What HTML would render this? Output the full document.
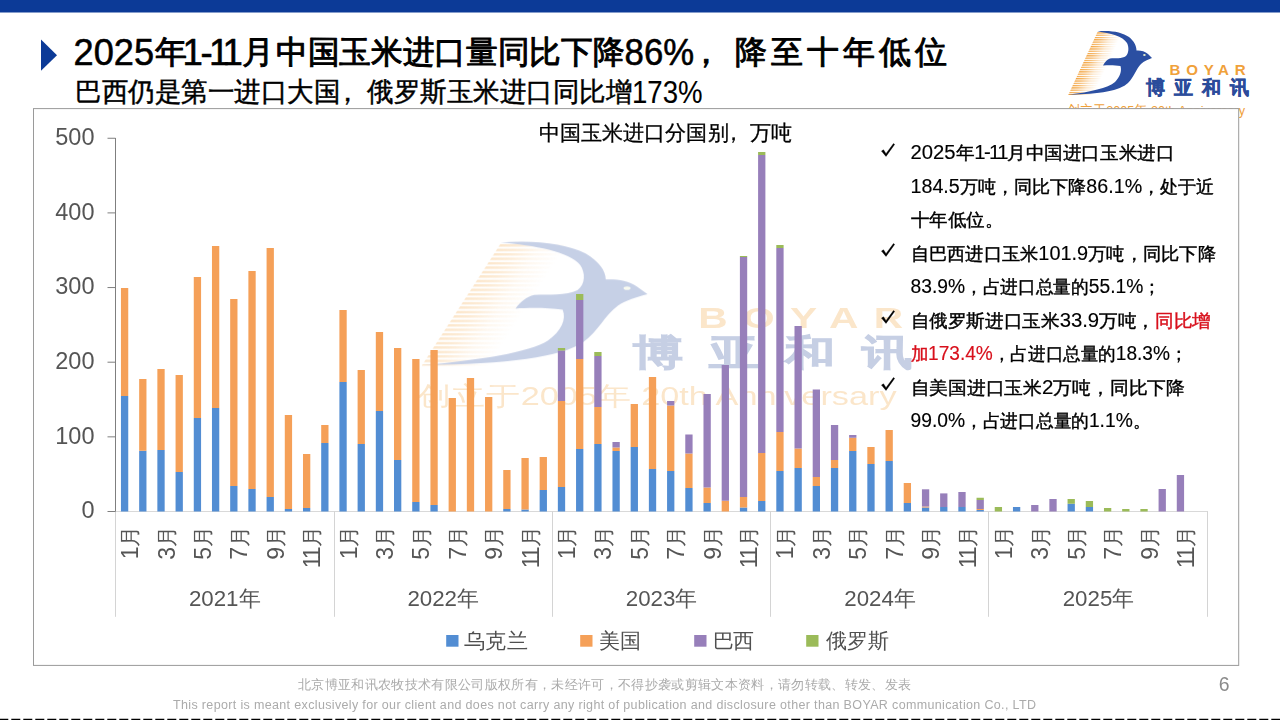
<!DOCTYPE html>
<html lang="zh">
<head>
<meta charset="utf-8">
<title>2025年1-11月中国玉米进口量同比下降86%</title>
<style>
html,body{margin:0;padding:0;background:#fff;}
body{width:1280px;height:720px;overflow:hidden;position:relative;font-family:"Liberation Sans",sans-serif;}
svg{position:absolute;left:0;top:0;display:block;}
text{font-family:"Liberation Sans",sans-serif;}
.ax{fill:#555;font-size:23px;}
.ax .cj{font-size:21px;}
.yv{font-size:23.5px;}
.yr{font-size:22.3px;}
.yr .cj{font-size:22px;}
.lg{fill:#505050;font-size:21px;}
.t1{font-size:31.7px;fill:#000;stroke:#000;stroke-width:1.0px;stroke-linejoin:round;}
.t1 .la{font-size:36.6px;stroke-width:0.55px;}
.t2{font-size:26.5px;fill:#000;stroke:#000;stroke-width:0.45px;}
.t2 .la{font-size:30.6px;stroke-width:0.1px;}
.pn{font-size:18.4px;fill:#000;stroke:#000;stroke-width:0.42px;}
.pn .la{font-size:19.6px;stroke-width:0.15px;}
.red{fill:#D8101C;stroke:#D8101C;}
.ft{font-size:12.5px;fill:#ABABAB;}
</style>
</head>
<body>
<svg width="1280" height="720" viewBox="0 0 1280 720">
<defs>
  <linearGradient id="fadeG" gradientUnits="userSpaceOnUse" x1="40.75" y1="0" x2="66" y2="0">
    <stop offset="0" stop-color="#fff" stop-opacity="1"/>
    <stop offset="0.25" stop-color="#fff" stop-opacity="0.8"/>
    <stop offset="0.6" stop-color="#fff" stop-opacity="0.3"/>
    <stop offset="1" stop-color="#fff" stop-opacity="0"/>
  </linearGradient>
  <mask id="fm" maskUnits="userSpaceOnUse" x="30" y="0" width="70" height="80"><rect x="30" y="0" width="70" height="80" fill="url(#fadeG)"/></mask>
  <pattern id="stripes" x="0" y="7.3" width="10" height="2.29" patternUnits="userSpaceOnUse">
    <rect x="0" y="0" width="10" height="1.3" fill="#F3A23B"/>
  </pattern>
  <g id="bird">
    <!-- striped wing -->
    <g transform="skewX(-24.9)"><rect x="40.75" y="7" width="38" height="63" fill="url(#stripes)" mask="url(#fm)"/></g>
    <!-- bird -->
    <path d="M37.5,6.4 C50,5 62,7 69,12 C74,16 76.5,21 76.5,25.5 C80,25.2 85,26 88,29 L92,33 C88,34.5 84,36 81,39 C76,44 74,52 68,58 C60,65.5 40,69.3 9,69.6 C30,67 48,63 55,57 C60,52 62,46 60.5,41 C55,40 48,40 43,40.5 C45,37 47,34.5 50,33.5 C55,33 62,34 66,31 C69,28 69,22 67,18 C63,11 50,8 37.5,6.4 Z" fill="#2B4FA2"/>
    <ellipse cx="84.4" cy="30" rx="1.3" ry="0.9" fill="#E8F0C8"/>
  </g>
  <g id="lann">
    <text x="7" y="90" font-size="13.5" fill="#F0A13A" textLength="178" lengthAdjust="spacingAndGlyphs">创立于2005年 20th Anniversary</text>
  </g>
  <g id="ltxt">
    <text x="109.6" y="50.4" font-size="15.1" font-weight="bold" fill="#F0A13A" textLength="76" lengthAdjust="spacing">BOYAR</text>
    <text x="85.5" y="69.3" font-size="18.5" font-weight="bold" fill="#2B4C9B" stroke="#2B4C9B" stroke-width="0.5" textLength="103" lengthAdjust="spacing">博亚和讯</text>
  </g>
</defs>

<!-- top bar -->
<rect x="0" y="0" width="1280" height="12.5" fill="#0C3A97"/>
<!-- bullet triangle -->
<polygon points="41,39.6 57,55.2 41,70.8" fill="#0C3A97"/>

<!-- titles -->
<text class="t1"><tspan x="73.6" y="64.8" class="la" textLength="80.5" lengthAdjust="spacingAndGlyphs">2025</tspan><tspan x="155.2" y="63">年</tspan><tspan x="182.6 200.4 208.9 222.4" y="64.8" class="la">1-11</tspan><tspan x="241.6" y="63">月</tspan><tspan x="276" y="63" textLength="348.5" lengthAdjust="spacingAndGlyphs">中国玉米进口量同比下降</tspan><tspan x="624.6" y="64.8" class="la" textLength="69.5" lengthAdjust="spacingAndGlyphs">86%</tspan><tspan x="689.5" y="63">，</tspan><tspan x="735" y="63" textLength="212" lengthAdjust="spacing">降至十年低位</tspan></text>
<text class="t2"><tspan x="75" y="101.2" textLength="265" lengthAdjust="spacingAndGlyphs">巴西仍是第一进口大国</tspan><tspan x="333.5" y="101.2">，</tspan><tspan x="367" y="101.2" textLength="265" lengthAdjust="spacingAndGlyphs">俄罗斯玉米进口同比增</tspan><tspan x="632" y="102.9" class="la" textLength="70.5" lengthAdjust="spacingAndGlyphs">173%</tspan></text>

<!-- top-right logo -->
<g transform="translate(1060,25)"><use href="#bird"/><use href="#ltxt"/><use href="#lann"/></g>

<!-- chart frame -->
<rect x="33.5" y="108.6" width="1205.2" height="556.8" fill="#fff" stroke="#9A9A9A" stroke-width="1"/>

<!-- watermark -->
<g opacity="0.27" transform="translate(399.5,230.1) scale(2.696,1.938)"><use href="#bird"/><use href="#ltxt" x="1.2" y="0.2"/><use href="#lann" x="-0.6"/></g>

<!-- chart title -->
<text y="140.3" font-size="21.2" fill="#000" stroke="#000" stroke-width="0.3"><tspan x="538.7" textLength="190" lengthAdjust="spacingAndGlyphs">中国玉米进口分国别</tspan><tspan x="723">，</tspan><tspan x="750.3" textLength="42.3" lengthAdjust="spacingAndGlyphs">万吨</tspan></text>

<!-- axes -->
<line x1="115.5" y1="511.5" x2="1208" y2="511.5" stroke="#D9D9D9" stroke-width="1"/>
<rect x="115" y="511.5" width="1" height="105.3" fill="#D4D4D4"/>
<rect x="334" y="511.5" width="1" height="105.3" fill="#D4D4D4"/>
<rect x="552" y="511.5" width="1" height="105.3" fill="#D4D4D4"/>
<rect x="770" y="511.5" width="1" height="105.3" fill="#D4D4D4"/>
<rect x="988" y="511.5" width="1" height="105.3" fill="#D4D4D4"/>
<rect x="1207" y="511.5" width="1" height="105.3" fill="#D4D4D4"/>
<line x1="115.5" y1="138" x2="115.5" y2="511.5" stroke="#7F7F7F" stroke-width="1"/>
<line x1="107.5" y1="511.50" x2="115.5" y2="511.50" stroke="#7F7F7F" stroke-width="1"/>
<text x="94.5" y="518.30" text-anchor="end" class="ax yv">0</text>
<line x1="107.5" y1="436.85" x2="115.5" y2="436.85" stroke="#7F7F7F" stroke-width="1"/>
<text x="94.5" y="443.65" text-anchor="end" class="ax yv">100</text>
<line x1="107.5" y1="362.20" x2="115.5" y2="362.20" stroke="#7F7F7F" stroke-width="1"/>
<text x="94.5" y="369.00" text-anchor="end" class="ax yv">200</text>
<line x1="107.5" y1="287.55" x2="115.5" y2="287.55" stroke="#7F7F7F" stroke-width="1"/>
<text x="94.5" y="294.35" text-anchor="end" class="ax yv">300</text>
<line x1="107.5" y1="212.90" x2="115.5" y2="212.90" stroke="#7F7F7F" stroke-width="1"/>
<text x="94.5" y="219.70" text-anchor="end" class="ax yv">400</text>
<line x1="107.5" y1="138.25" x2="115.5" y2="138.25" stroke="#7F7F7F" stroke-width="1"/>
<text x="94.5" y="145.05" text-anchor="end" class="ax yv">500</text>

<!-- bars -->
<g shape-rendering="auto">
<rect x="120.95" y="396.00" width="7.3" height="115.50" fill="#528DD3"/>
<rect x="120.95" y="288.00" width="7.3" height="108.00" fill="#F5A058"/>
<rect x="139.16" y="450.75" width="7.3" height="60.75" fill="#528DD3"/>
<rect x="139.16" y="379.00" width="7.3" height="71.75" fill="#F5A058"/>
<rect x="157.36" y="450.00" width="7.3" height="61.50" fill="#528DD3"/>
<rect x="157.36" y="369.00" width="7.3" height="81.00" fill="#F5A058"/>
<rect x="175.56" y="472.00" width="7.3" height="39.50" fill="#528DD3"/>
<rect x="175.56" y="375.00" width="7.3" height="97.00" fill="#F5A058"/>
<rect x="193.77" y="418.00" width="7.3" height="93.50" fill="#528DD3"/>
<rect x="193.77" y="277.00" width="7.3" height="141.00" fill="#F5A058"/>
<rect x="211.97" y="408.00" width="7.3" height="103.50" fill="#528DD3"/>
<rect x="211.97" y="246.00" width="7.3" height="162.00" fill="#F5A058"/>
<rect x="230.18" y="486.00" width="7.3" height="25.50" fill="#528DD3"/>
<rect x="230.18" y="299.00" width="7.3" height="187.00" fill="#F5A058"/>
<rect x="248.38" y="489.00" width="7.3" height="22.50" fill="#528DD3"/>
<rect x="248.38" y="271.00" width="7.3" height="218.00" fill="#F5A058"/>
<rect x="266.58" y="497.00" width="7.3" height="14.50" fill="#528DD3"/>
<rect x="266.58" y="248.00" width="7.3" height="249.00" fill="#F5A058"/>
<rect x="284.79" y="509.00" width="7.3" height="2.50" fill="#528DD3"/>
<rect x="284.79" y="415.00" width="7.3" height="94.00" fill="#F5A058"/>
<rect x="302.99" y="508.00" width="7.3" height="3.50" fill="#528DD3"/>
<rect x="302.99" y="454.00" width="7.3" height="54.00" fill="#F5A058"/>
<rect x="321.20" y="443.00" width="7.3" height="68.50" fill="#528DD3"/>
<rect x="321.20" y="425.00" width="7.3" height="18.00" fill="#F5A058"/>
<rect x="339.40" y="382.00" width="7.3" height="129.50" fill="#528DD3"/>
<rect x="339.40" y="310.00" width="7.3" height="72.00" fill="#F5A058"/>
<rect x="357.60" y="444.00" width="7.3" height="67.50" fill="#528DD3"/>
<rect x="357.60" y="370.00" width="7.3" height="74.00" fill="#F5A058"/>
<rect x="375.81" y="411.00" width="7.3" height="100.50" fill="#528DD3"/>
<rect x="375.81" y="332.00" width="7.3" height="79.00" fill="#F5A058"/>
<rect x="394.01" y="460.00" width="7.3" height="51.50" fill="#528DD3"/>
<rect x="394.01" y="348.00" width="7.3" height="112.00" fill="#F5A058"/>
<rect x="412.22" y="502.00" width="7.3" height="9.50" fill="#528DD3"/>
<rect x="412.22" y="359.00" width="7.3" height="143.00" fill="#F5A058"/>
<rect x="430.42" y="505.00" width="7.3" height="6.50" fill="#528DD3"/>
<rect x="430.42" y="350.00" width="7.3" height="155.00" fill="#F5A058"/>
<rect x="448.62" y="398.00" width="7.3" height="113.50" fill="#F5A058"/>
<rect x="466.83" y="378.00" width="7.3" height="133.50" fill="#F5A058"/>
<rect x="485.03" y="397.00" width="7.3" height="114.50" fill="#F5A058"/>
<rect x="503.24" y="509.00" width="7.3" height="2.50" fill="#528DD3"/>
<rect x="503.24" y="470.00" width="7.3" height="39.00" fill="#F5A058"/>
<rect x="521.44" y="509.50" width="7.3" height="2.00" fill="#528DD3"/>
<rect x="521.44" y="458.00" width="7.3" height="51.50" fill="#F5A058"/>
<rect x="539.64" y="490.00" width="7.3" height="21.50" fill="#528DD3"/>
<rect x="539.64" y="457.00" width="7.3" height="33.00" fill="#F5A058"/>
<rect x="557.85" y="487.00" width="7.3" height="24.50" fill="#528DD3"/>
<rect x="557.85" y="401.00" width="7.3" height="86.00" fill="#F5A058"/>
<rect x="557.85" y="350.50" width="7.3" height="50.50" fill="#977FBA"/>
<rect x="557.85" y="348.00" width="7.3" height="2.50" fill="#9BBB59"/>
<rect x="576.05" y="449.00" width="7.3" height="62.50" fill="#528DD3"/>
<rect x="576.05" y="359.00" width="7.3" height="90.00" fill="#F5A058"/>
<rect x="576.05" y="300.00" width="7.3" height="59.00" fill="#977FBA"/>
<rect x="576.05" y="294.00" width="7.3" height="6.00" fill="#9BBB59"/>
<rect x="594.26" y="444.00" width="7.3" height="67.50" fill="#528DD3"/>
<rect x="594.26" y="407.00" width="7.3" height="37.00" fill="#F5A058"/>
<rect x="594.26" y="356.00" width="7.3" height="51.00" fill="#977FBA"/>
<rect x="594.26" y="352.00" width="7.3" height="4.00" fill="#9BBB59"/>
<rect x="612.46" y="451.00" width="7.3" height="60.50" fill="#528DD3"/>
<rect x="612.46" y="447.50" width="7.3" height="3.50" fill="#F5A058"/>
<rect x="612.46" y="442.00" width="7.3" height="5.50" fill="#977FBA"/>
<rect x="630.66" y="447.00" width="7.3" height="64.50" fill="#528DD3"/>
<rect x="630.66" y="404.00" width="7.3" height="43.00" fill="#F5A058"/>
<rect x="648.87" y="469.00" width="7.3" height="42.50" fill="#528DD3"/>
<rect x="648.87" y="377.00" width="7.3" height="92.00" fill="#F5A058"/>
<rect x="667.07" y="471.00" width="7.3" height="40.50" fill="#528DD3"/>
<rect x="667.07" y="405.50" width="7.3" height="65.50" fill="#F5A058"/>
<rect x="667.07" y="401.00" width="7.3" height="4.50" fill="#977FBA"/>
<rect x="685.28" y="488.00" width="7.3" height="23.50" fill="#528DD3"/>
<rect x="685.28" y="453.50" width="7.3" height="34.50" fill="#F5A058"/>
<rect x="685.28" y="434.50" width="7.3" height="19.00" fill="#977FBA"/>
<rect x="703.48" y="503.00" width="7.3" height="8.50" fill="#528DD3"/>
<rect x="703.48" y="487.50" width="7.3" height="15.50" fill="#F5A058"/>
<rect x="703.48" y="394.00" width="7.3" height="93.50" fill="#977FBA"/>
<rect x="721.68" y="500.75" width="7.3" height="10.75" fill="#F5A058"/>
<rect x="721.68" y="365.00" width="7.3" height="135.75" fill="#977FBA"/>
<rect x="739.89" y="507.50" width="7.3" height="4.00" fill="#528DD3"/>
<rect x="739.89" y="497.00" width="7.3" height="10.50" fill="#F5A058"/>
<rect x="739.89" y="257.00" width="7.3" height="240.00" fill="#977FBA"/>
<rect x="739.89" y="256.00" width="7.3" height="1.00" fill="#9BBB59"/>
<rect x="758.09" y="501.00" width="7.3" height="10.50" fill="#528DD3"/>
<rect x="758.09" y="453.00" width="7.3" height="48.00" fill="#F5A058"/>
<rect x="758.09" y="155.00" width="7.3" height="298.00" fill="#977FBA"/>
<rect x="758.09" y="152.00" width="7.3" height="3.00" fill="#9BBB59"/>
<rect x="776.30" y="471.00" width="7.3" height="40.50" fill="#528DD3"/>
<rect x="776.30" y="432.00" width="7.3" height="39.00" fill="#F5A058"/>
<rect x="776.30" y="248.00" width="7.3" height="184.00" fill="#977FBA"/>
<rect x="776.30" y="245.00" width="7.3" height="3.00" fill="#9BBB59"/>
<rect x="794.50" y="468.00" width="7.3" height="43.50" fill="#528DD3"/>
<rect x="794.50" y="448.50" width="7.3" height="19.50" fill="#F5A058"/>
<rect x="794.50" y="326.00" width="7.3" height="122.50" fill="#977FBA"/>
<rect x="812.70" y="486.00" width="7.3" height="25.50" fill="#528DD3"/>
<rect x="812.70" y="477.00" width="7.3" height="9.00" fill="#F5A058"/>
<rect x="812.70" y="389.50" width="7.3" height="87.50" fill="#977FBA"/>
<rect x="830.91" y="468.00" width="7.3" height="43.50" fill="#528DD3"/>
<rect x="830.91" y="460.00" width="7.3" height="8.00" fill="#F5A058"/>
<rect x="830.91" y="425.00" width="7.3" height="35.00" fill="#977FBA"/>
<rect x="849.11" y="451.00" width="7.3" height="60.50" fill="#528DD3"/>
<rect x="849.11" y="437.75" width="7.3" height="13.25" fill="#F5A058"/>
<rect x="849.11" y="435.00" width="7.3" height="2.75" fill="#977FBA"/>
<rect x="867.32" y="464.00" width="7.3" height="47.50" fill="#528DD3"/>
<rect x="867.32" y="447.00" width="7.3" height="17.00" fill="#F5A058"/>
<rect x="885.52" y="461.00" width="7.3" height="50.50" fill="#528DD3"/>
<rect x="885.52" y="430.00" width="7.3" height="31.00" fill="#F5A058"/>
<rect x="903.72" y="503.00" width="7.3" height="8.50" fill="#528DD3"/>
<rect x="903.72" y="483.00" width="7.3" height="20.00" fill="#F5A058"/>
<rect x="921.93" y="507.50" width="7.3" height="4.00" fill="#528DD3"/>
<rect x="921.93" y="506.50" width="7.3" height="1.00" fill="#F5A058"/>
<rect x="921.93" y="489.30" width="7.3" height="17.20" fill="#977FBA"/>
<rect x="940.13" y="507.00" width="7.3" height="4.50" fill="#528DD3"/>
<rect x="940.13" y="493.40" width="7.3" height="13.60" fill="#977FBA"/>
<rect x="958.34" y="507.00" width="7.3" height="4.50" fill="#528DD3"/>
<rect x="958.34" y="492.00" width="7.3" height="15.00" fill="#977FBA"/>
<rect x="976.54" y="510.00" width="7.3" height="1.50" fill="#528DD3"/>
<rect x="976.54" y="509.00" width="7.3" height="1.00" fill="#F5A058"/>
<rect x="976.54" y="500.00" width="7.3" height="9.00" fill="#977FBA"/>
<rect x="976.54" y="497.75" width="7.3" height="2.25" fill="#9BBB59"/>
<rect x="994.74" y="507.00" width="7.3" height="4.50" fill="#9BBB59"/>
<rect x="1012.95" y="507.00" width="7.3" height="4.50" fill="#528DD3"/>
<rect x="1031.15" y="505.00" width="7.3" height="6.50" fill="#977FBA"/>
<rect x="1049.36" y="499.00" width="7.3" height="12.50" fill="#977FBA"/>
<rect x="1067.56" y="503.75" width="7.3" height="7.75" fill="#528DD3"/>
<rect x="1067.56" y="499.00" width="7.3" height="4.75" fill="#9BBB59"/>
<rect x="1085.76" y="507.00" width="7.3" height="4.50" fill="#528DD3"/>
<rect x="1085.76" y="501.00" width="7.3" height="6.00" fill="#9BBB59"/>
<rect x="1103.97" y="508.00" width="7.3" height="3.50" fill="#9BBB59"/>
<rect x="1122.17" y="509.00" width="7.3" height="2.50" fill="#9BBB59"/>
<rect x="1140.38" y="509.00" width="7.3" height="2.50" fill="#9BBB59"/>
<rect x="1158.58" y="489.00" width="7.3" height="22.50" fill="#977FBA"/>
<rect x="1176.78" y="475.00" width="7.3" height="36.50" fill="#977FBA"/>
</g>

<!-- category labels -->
<text transform="translate(137.30,0) rotate(-90)" class="ax"><tspan x="-559.2" y="0.8">1</tspan><tspan class="cj" x="-546.8" y="0">月</tspan></text>
<text transform="translate(173.71,0) rotate(-90)" class="ax"><tspan x="-559.8" y="0.8">3</tspan><tspan class="cj" x="-546.8" y="0">月</tspan></text>
<text transform="translate(210.12,0) rotate(-90)" class="ax"><tspan x="-559.8" y="0.8">5</tspan><tspan class="cj" x="-546.8" y="0">月</tspan></text>
<text transform="translate(246.53,0) rotate(-90)" class="ax"><tspan x="-559.8" y="0.8">7</tspan><tspan class="cj" x="-546.8" y="0">月</tspan></text>
<text transform="translate(282.93,0) rotate(-90)" class="ax"><tspan x="-559.8" y="0.8">9</tspan><tspan class="cj" x="-546.8" y="0">月</tspan></text>
<text transform="translate(319.34,0) rotate(-90)" class="ax"><tspan x="-568.2 -559.2" y="0.8">11</tspan><tspan class="cj" x="-546.8" y="0">月</tspan></text>
<text transform="translate(355.75,0) rotate(-90)" class="ax"><tspan x="-559.2" y="0.8">1</tspan><tspan class="cj" x="-546.8" y="0">月</tspan></text>
<text transform="translate(392.16,0) rotate(-90)" class="ax"><tspan x="-559.8" y="0.8">3</tspan><tspan class="cj" x="-546.8" y="0">月</tspan></text>
<text transform="translate(428.57,0) rotate(-90)" class="ax"><tspan x="-559.8" y="0.8">5</tspan><tspan class="cj" x="-546.8" y="0">月</tspan></text>
<text transform="translate(464.97,0) rotate(-90)" class="ax"><tspan x="-559.8" y="0.8">7</tspan><tspan class="cj" x="-546.8" y="0">月</tspan></text>
<text transform="translate(501.38,0) rotate(-90)" class="ax"><tspan x="-559.8" y="0.8">9</tspan><tspan class="cj" x="-546.8" y="0">月</tspan></text>
<text transform="translate(537.79,0) rotate(-90)" class="ax"><tspan x="-568.2 -559.2" y="0.8">11</tspan><tspan class="cj" x="-546.8" y="0">月</tspan></text>
<text transform="translate(574.20,0) rotate(-90)" class="ax"><tspan x="-559.2" y="0.8">1</tspan><tspan class="cj" x="-546.8" y="0">月</tspan></text>
<text transform="translate(610.61,0) rotate(-90)" class="ax"><tspan x="-559.8" y="0.8">3</tspan><tspan class="cj" x="-546.8" y="0">月</tspan></text>
<text transform="translate(647.01,0) rotate(-90)" class="ax"><tspan x="-559.8" y="0.8">5</tspan><tspan class="cj" x="-546.8" y="0">月</tspan></text>
<text transform="translate(683.42,0) rotate(-90)" class="ax"><tspan x="-559.8" y="0.8">7</tspan><tspan class="cj" x="-546.8" y="0">月</tspan></text>
<text transform="translate(719.83,0) rotate(-90)" class="ax"><tspan x="-559.8" y="0.8">9</tspan><tspan class="cj" x="-546.8" y="0">月</tspan></text>
<text transform="translate(756.24,0) rotate(-90)" class="ax"><tspan x="-568.2 -559.2" y="0.8">11</tspan><tspan class="cj" x="-546.8" y="0">月</tspan></text>
<text transform="translate(792.65,0) rotate(-90)" class="ax"><tspan x="-559.2" y="0.8">1</tspan><tspan class="cj" x="-546.8" y="0">月</tspan></text>
<text transform="translate(829.05,0) rotate(-90)" class="ax"><tspan x="-559.8" y="0.8">3</tspan><tspan class="cj" x="-546.8" y="0">月</tspan></text>
<text transform="translate(865.46,0) rotate(-90)" class="ax"><tspan x="-559.8" y="0.8">5</tspan><tspan class="cj" x="-546.8" y="0">月</tspan></text>
<text transform="translate(901.87,0) rotate(-90)" class="ax"><tspan x="-559.8" y="0.8">7</tspan><tspan class="cj" x="-546.8" y="0">月</tspan></text>
<text transform="translate(938.28,0) rotate(-90)" class="ax"><tspan x="-559.8" y="0.8">9</tspan><tspan class="cj" x="-546.8" y="0">月</tspan></text>
<text transform="translate(974.69,0) rotate(-90)" class="ax"><tspan x="-568.2 -559.2" y="0.8">11</tspan><tspan class="cj" x="-546.8" y="0">月</tspan></text>
<text transform="translate(1011.09,0) rotate(-90)" class="ax"><tspan x="-559.2" y="0.8">1</tspan><tspan class="cj" x="-546.8" y="0">月</tspan></text>
<text transform="translate(1047.50,0) rotate(-90)" class="ax"><tspan x="-559.8" y="0.8">3</tspan><tspan class="cj" x="-546.8" y="0">月</tspan></text>
<text transform="translate(1083.91,0) rotate(-90)" class="ax"><tspan x="-559.8" y="0.8">5</tspan><tspan class="cj" x="-546.8" y="0">月</tspan></text>
<text transform="translate(1120.32,0) rotate(-90)" class="ax"><tspan x="-559.8" y="0.8">7</tspan><tspan class="cj" x="-546.8" y="0">月</tspan></text>
<text transform="translate(1156.73,0) rotate(-90)" class="ax"><tspan x="-559.8" y="0.8">9</tspan><tspan class="cj" x="-546.8" y="0">月</tspan></text>
<text transform="translate(1193.13,0) rotate(-90)" class="ax"><tspan x="-568.2 -559.2" y="0.8">11</tspan><tspan class="cj" x="-546.8" y="0">月</tspan></text>
<text x="224.7" y="606.3" text-anchor="middle" class="ax yr">2021<tspan class="cj">年</tspan></text>
<text x="443.2" y="606.3" text-anchor="middle" class="ax yr">2022<tspan class="cj">年</tspan></text>
<text x="661.6" y="606.3" text-anchor="middle" class="ax yr">2023<tspan class="cj">年</tspan></text>
<text x="880.1" y="606.3" text-anchor="middle" class="ax yr">2024<tspan class="cj">年</tspan></text>
<text x="1098.5" y="606.3" text-anchor="middle" class="ax yr">2025<tspan class="cj">年</tspan></text>

<!-- legend -->
<rect x="446.2" y="635" width="12.3" height="11.7" fill="#528DD3"/>
<text x="464" y="648" class="lg" textLength="63.5" lengthAdjust="spacing">乌克兰</text>
<rect x="580.2" y="635" width="12.3" height="11.7" fill="#F5A058"/>
<text x="599" y="648" class="lg" textLength="41.5" lengthAdjust="spacing">美国</text>
<rect x="694.2" y="635" width="12.3" height="11.7" fill="#977FBA"/>
<text x="712.5" y="648" class="lg" textLength="41.5" lengthAdjust="spacing">巴西</text>
<rect x="806.2" y="635" width="12.3" height="11.7" fill="#9BBB59"/>
<text x="826" y="648" class="lg" textLength="63" lengthAdjust="spacing">俄罗斯</text>

<!-- text panel -->
<g class="pn">
<polygon points="881.5,151.1 883.5,149.8 886.0,153.7 893.5,143.6 894.6,144.4 886.0,156.4" fill="#000"/>
<text x="910.5" y="159" textLength="264" lengthAdjust="spacingAndGlyphs"><tspan class="la">2025</tspan>年<tspan class="la" letter-spacing="-1.5">1-11</tspan>月中国进口玉米进口</text>
<text x="910.5" y="192.5" textLength="304" lengthAdjust="spacingAndGlyphs"><tspan class="la">184.5</tspan>万吨，同比下降<tspan class="la">86.1%</tspan>，处于近</text>
<text x="910.5" y="226" textLength="92.5" lengthAdjust="spacingAndGlyphs">十年低位。</text>
<polygon points="881.5,251.1 883.5,249.8 886.0,253.7 893.5,243.6 894.6,244.4 886.0,256.4" fill="#000"/>
<text x="910.5" y="259.5" textLength="305.5" lengthAdjust="spacingAndGlyphs">自巴西进口玉米<tspan class="la">101.9</tspan>万吨，同比下降</text>
<text x="910.5" y="293" textLength="250.5" lengthAdjust="spacingAndGlyphs"><tspan class="la">83.9%</tspan>，占进口总量的<tspan class="la">55.1%</tspan>；</text>
<polygon points="881.5,318.1 883.5,316.8 886.0,320.7 893.5,310.6 894.6,311.4 886.0,323.4" fill="#000"/>
<text x="910.5" y="326.5" textLength="300.5" lengthAdjust="spacingAndGlyphs">自俄罗斯进口玉米<tspan class="la">33.9</tspan>万吨，<tspan class="red">同比增</tspan></text>
<text x="910.5" y="360" textLength="277" lengthAdjust="spacingAndGlyphs"><tspan class="red">加<tspan class="la">173.4%</tspan></tspan>，占进口总量的<tspan class="la">18.3%</tspan>；</text>
<polygon points="881.5,385.1 883.5,383.8 886.0,387.7 893.5,377.6 894.6,378.4 886.0,390.4" fill="#000"/>
<text x="910.5" y="393.5" textLength="274.5" lengthAdjust="spacingAndGlyphs">自美国进口玉米<tspan class="la">2</tspan>万吨，同比下降</text>
<text x="910.5" y="427" textLength="240" lengthAdjust="spacingAndGlyphs"><tspan class="la">99.0%</tspan>，占进口总量的<tspan class="la">1.1%</tspan>。</text>
</g>

<!-- footer -->
<text x="298" y="688.6" class="ft" textLength="613" lengthAdjust="spacing">北京博亚和讯农牧技术有限公司版权所有，未经许可，不得抄袭或剪辑文本资料，请勿转载、转发、发表</text>
<text x="173" y="708.5" class="ft" font-size="12" textLength="863" lengthAdjust="spacing">This report is meant exclusively for our client and does not carry any right of publication and disclosure other than BOYAR communication Co., LTD</text>
<text x="1218.8" y="691.3" font-size="19.4" fill="#8A8A8A">6</text>

<!-- bottom dashed rule -->
<line x1="-0.7" y1="719.5" x2="1280" y2="719.5" stroke="#000" stroke-width="1.4" stroke-dasharray="9 3"/>
</svg>
</body>
</html>
